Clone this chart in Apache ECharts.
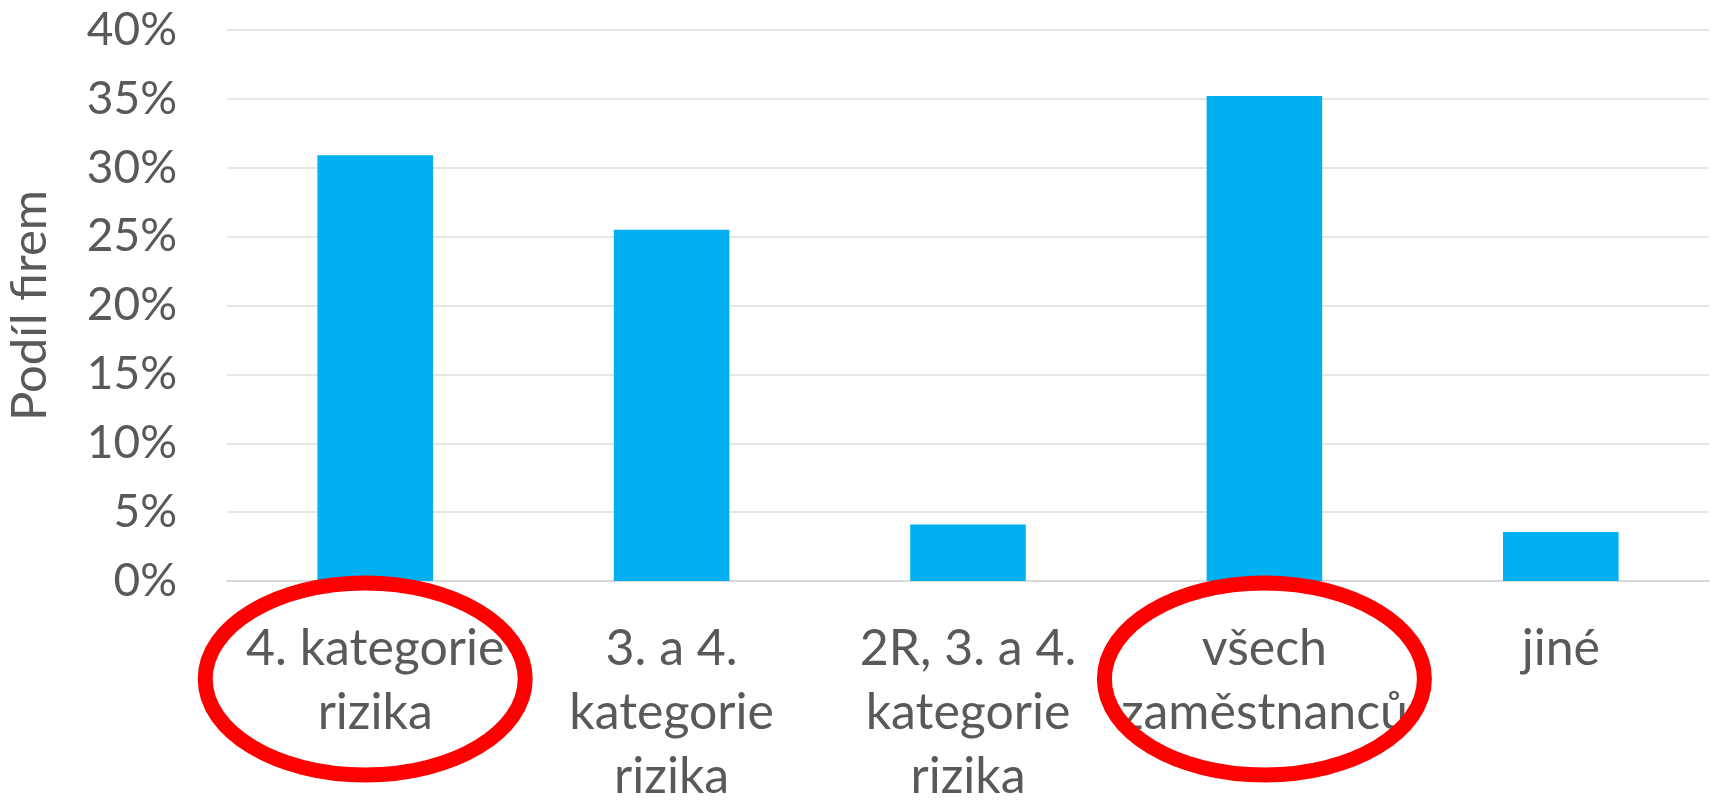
<!DOCTYPE html>
<html>
<head>
<meta charset="utf-8">
<script src="https://cdn.jsdelivr.net/npm/echarts@6/dist/echarts.min.js"></script>
<style>
  html, body { margin: 0; padding: 0; background: #fff; }
  #main { width: 1713px; height: 802px; }
</style>
</head>
<body>
<div id="main"></div>
<script>
// kategorie a hodnoty (podíl firem v %)
var categories = ['4. kategorie\nrizika', '3. a 4.\nkategorie\nrizika', '2R, 3. a 4.\nkategorie\nrizika', 'všech\nzaměstnanců', 'jiné'];
var values = [30.9, 25.5, 4.1, 35.2, 3.55];
var yTicks = [0, 5, 10, 15, 20, 25, 30, 35, 40];
// zvýrazněné kategorie (červené elipsy)
var highlighted = [0, 3];

var myChart = echarts.init(document.getElementById('main'));

var option = {
    animation: false,
    grid: {
        left: 227,
        right: 4,
        top: 30,
        bottom: 221,
        outerBoundsMode: 'none'
    },
    xAxis: {
        type: 'category',
        data: categories,
        axisTick: { show: false },
        axisLine: { lineStyle: { color: '#d9d9d9', width: 2 } },
        axisLabel: {
            color: '#595959',
            fontFamily: 'Lato',
            fontSize: 50,
            lineHeight: 64,
            margin: 36,
            interval: 0
        }
    },
    yAxis: {
        type: 'value',
        min: yTicks[0],
        max: yTicks[yTicks.length - 1],
        interval: 5,
        name: 'Podíl firem',
        nameLocation: 'middle',
        nameGap: 172,
        nameTextStyle: {
            color: '#595959',
            fontFamily: 'Lato',
            fontSize: 49
        },
        axisLine: { show: false },
        axisTick: { show: false },
        splitLine: { lineStyle: { color: '#e6e6e6', width: 2 } },
        axisLabel: {
            color: '#595959',
            fontFamily: 'Lato',
            fontSize: 46,
            margin: 50,
            formatter: '{value}%'
        }
    },
    series: [{
        type: 'bar',
        data: values,
        barWidth: '39%',
        itemStyle: { color: '#00b0f0' }
    }]
};
myChart.setOption(option);

// červené elipsy kolem zvýrazněných popisků
var ellipses = highlighted.map(function (i, k) {
    var cx = myChart.convertToPixel({ xAxisIndex: 0 }, i);
    var cy = myChart.convertToPixel({ yAxisIndex: 0 }, 0);
    return {
        type: 'ellipse',
        z: 100,
        shape: { cx: cx + (k === 0 ? -10 : 0), cy: cy + 98, rx: 160, ry: 96 },
        style: { fill: 'none', stroke: '#ff0000', lineWidth: 15 }
    };
});
myChart.setOption({ graphic: ellipses });
</script>
</body>
</html>
